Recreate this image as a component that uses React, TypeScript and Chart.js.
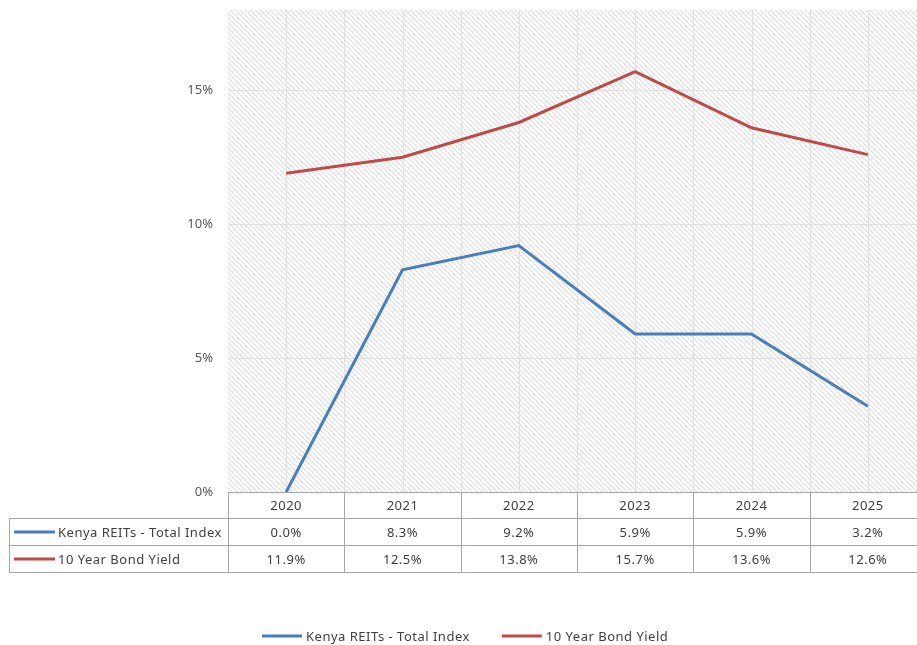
import { useEffect, useRef } from 'react';
import { Chart, registerables } from 'chart.js';

Chart.register(...registerables);

// Data
const YEARS = ['2020', '2021', '2022', '2023', '2024', '2025'];
const REITS_RETURN = [0.0, 8.3, 9.2, 5.9, 5.9, 3.2];
const BOND_YIELD = [11.9, 12.5, 13.8, 15.7, 13.6, 12.6];
const Y_TICKS = [0, 5, 10, 15];
const SERIES_NAMES = ['Kenya REITs - Total Index', '10 Year Bond Yield'];

const SERIES_COLORS = ['#4A7EBB', '#BE4B48'];
const FONT = '"Noto Sans", "Open Sans", sans-serif';
const TEXT = '#404040';
const BORDER = '#a6a6a6';

const CANVAS_W = 930;
const CANVAS_H = 645;
const AREA_LEFT = 228;
const AREA_TOP = 10;
const AREA_BOTTOM = 492;
const AREA_RIGHT = 926;
const ROW_H = [26, 27, 27];
const TABLE_LEFT = 9;
const LEGEND_Y = 636;

function makeHatch(): CanvasPattern | string {
  const tile = document.createElement('canvas');
  const n = 5;
  tile.width = n;
  tile.height = n;
  const tctx = tile.getContext('2d');
  if (!tctx) return '#f3f3f3';
  const img = tctx.createImageData(n, n);
  const shades = [221, 240, 255, 255, 255];
  for (let yy = 0; yy < n; yy++) {
    for (let xx = 0; xx < n; xx++) {
      const d = (((xx - yy) % n) + n) % n;
      const v = shades[d];
      const i = (yy * n + xx) * 4;
      img.data[i] = v;
      img.data[i + 1] = v;
      img.data[i + 2] = v;
      img.data[i + 3] = 255;
    }
  }
  tctx.putImageData(img, 0, 0);
  const ctx = document.createElement('canvas').getContext('2d');
  return ctx?.createPattern(tile, 'repeat') ?? '#f3f3f3';
}

const plotBackdrop = {
  id: 'plotBackdrop',
  beforeDatasetsDraw(chart: any) {
    const { ctx, chartArea: a, scales } = chart;
    const y = scales.y;
    ctx.save();
    ctx.fillStyle = makeHatch();
    ctx.fillRect(a.left, a.top, a.right - a.left, a.bottom - a.top);
    ctx.strokeStyle = '#e0e0e0';
    ctx.lineWidth = 1;
    // horizontal gridlines
    Y_TICKS.filter((v) => v > 0).forEach((v) => {
      const py = Math.round(y.getPixelForValue(v)) + 0.5;
      ctx.beginPath();
      ctx.moveTo(a.left, py);
      ctx.lineTo(a.right, py);
      ctx.stroke();
    });
    // vertical gridlines at category edges and centres
    const half = (a.right - a.left) / (YEARS.length * 2);
    for (let i = 1; i < YEARS.length * 2; i++) {
      const px = Math.round(a.left + i * half) + 0.5;
      ctx.beginPath();
      ctx.moveTo(px, a.top);
      ctx.lineTo(px, a.bottom);
      ctx.stroke();
    }
    ctx.restore();
  },
  afterDraw(chart: any) {
    const { ctx, chartArea: a, scales } = chart;
    const x = scales.x;
    const colW = (a.right - a.left) / YEARS.length;
    const r0 = Math.round(a.bottom) + 0.5;
    const r1 = r0 + ROW_H[0];
    const r2 = r1 + ROW_H[1];
    const r3 = r2 + ROW_H[2];
    const left = AREA_LEFT + 0.5;
    const tl = TABLE_LEFT + 0.5;

    ctx.save();
    ctx.strokeStyle = BORDER;
    ctx.lineWidth = 1;
    const line = (x1: number, y1: number, x2: number, y2: number) => {
      ctx.beginPath();
      ctx.moveTo(x1, y1);
      ctx.lineTo(x2, y2);
      ctx.stroke();
    };
    // horizontal rules
    line(left, r0, a.right, r0);
    line(tl, r1, a.right, r1);
    line(tl, r2, a.right, r2);
    line(tl, r3, a.right, r3);
    // vertical rules
    line(tl, r1, tl, r3);
    for (let i = 0; i <= YEARS.length; i++) {
      const px = Math.round(a.left + i * colW) + 0.5;
      line(px, r0, px, r3);
    }

    ctx.font = `13px ${FONT}`;
    (ctx as any).letterSpacing = '0.5px';
    ctx.fillStyle = TEXT;
    ctx.textBaseline = 'middle';
    ctx.textAlign = 'center';
    const rows = [REITS_RETURN, BOND_YIELD];
    YEARS.forEach((yr, i) => {
      const cx = x.getPixelForValue(i);
      ctx.fillText(yr, cx, (r0 + r1) / 2 + 1);
      ctx.fillText(rows[0][i].toFixed(1) + '%', cx, (r1 + r2) / 2 + 1);
      ctx.fillText(rows[1][i].toFixed(1) + '%', cx, (r2 + r3) / 2 + 1);
    });

    // row headers with series keys
    ctx.textAlign = 'left';
    const mids = [(r1 + r2) / 2, (r2 + r3) / 2];
    SERIES_NAMES.forEach((name, k) => {
      const my = Math.round(mids[k]);
      ctx.strokeStyle = SERIES_COLORS[k];
      ctx.lineWidth = 3;
      line(TABLE_LEFT + 5, my, TABLE_LEFT + 46, my);
      ctx.fillText(name, TABLE_LEFT + 49, my + 1);
    });

    // legend
    const sw = 40;
    const gap = 4;
    const itemGap = 32;
    const widths = SERIES_NAMES.map((n) => sw + gap + ctx.measureText(n).width);
    const total = widths[0] + widths[1] + itemGap;
    let lx = Math.round(chart.width / 2 - total / 2);
    SERIES_NAMES.forEach((name, k) => {
      ctx.strokeStyle = SERIES_COLORS[k];
      ctx.lineWidth = 3;
      line(lx, LEGEND_Y, lx + sw, LEGEND_Y);
      ctx.fillText(name, lx + sw + gap, LEGEND_Y + 1);
      lx += widths[k] + itemGap;
    });
    ctx.restore();
  },
};

export default function App() {
  const ref = useRef<HTMLCanvasElement | null>(null);

  useEffect(() => {
    if (!ref.current) return;
    const chart = new Chart(ref.current, {
      type: 'line',
      data: {
        labels: YEARS,
        datasets: [
          {
            label: SERIES_NAMES[0],
            data: REITS_RETURN,
            borderColor: SERIES_COLORS[0],
            backgroundColor: SERIES_COLORS[0],
            borderWidth: 3,
            pointRadius: 0,
            tension: 0,
          },
          {
            label: SERIES_NAMES[1],
            data: BOND_YIELD,
            borderColor: SERIES_COLORS[1],
            backgroundColor: SERIES_COLORS[1],
            borderWidth: 3,
            pointRadius: 0,
            tension: 0,
          },
        ],
      },
      options: {
        responsive: false,
        animation: false,
        devicePixelRatio: 1,
        layout: {
          padding: {
            left: 0,
            top: AREA_TOP,
            right: CANVAS_W - AREA_RIGHT,
            bottom: CANVAS_H - AREA_BOTTOM,
          },
        },
        plugins: {
          legend: { display: false },
          tooltip: { enabled: false },
        },
        scales: {
          x: {
            type: 'category',
            offset: true,
            display: false,
          },
          y: {
            min: 0,
            max: 18,
            grid: { display: false, drawTicks: false },
            border: { display: false },
            ticks: {
              padding: 15,
              color: '#595959',
              font: { family: FONT, size: 13 },
              callback: (v: any) => `${v}%`,
            },
            afterBuildTicks: (scale: any) => {
              scale.ticks = Y_TICKS.map((v) => ({ value: v }));
            },
            afterFit: (scale: any) => {
              scale.width = AREA_LEFT;
              scale.paddingTop = 0;
              scale.paddingBottom = 0;
            },
          },
        },
      },
      plugins: [plotBackdrop],
    });
    return () => chart.destroy();
  }, []);

  return (
    <div
      style={{
        position: 'fixed',
        left: 0,
        top: 0,
        width: 917,
        height: CANVAS_H,
        overflow: 'hidden',
        background: '#ffffff',
      }}
    >
      <canvas ref={ref} width={CANVAS_W} height={CANVAS_H} style={{ display: 'block' }} />
    </div>
  );
}
